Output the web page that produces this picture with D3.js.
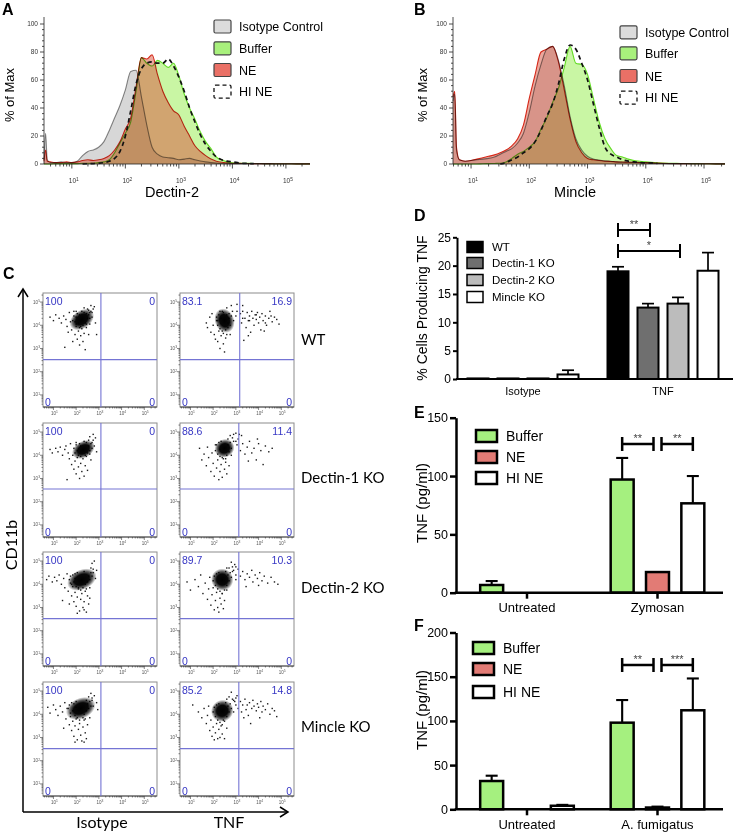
<!DOCTYPE html>
<html><head><meta charset="utf-8">
<script src="https://cdn.jsdelivr.net/npm/d3@7"></script>
<style>body{margin:0;background:#fff}svg{display:block}</style>
</head><body><svg id="c" width="736" height="833"></svg>
<script>
// ================= DATA =================
const histLegend = ["Isotype Control","Buffer","NE","HI NE"];
const histYTicks = [0,20,40,60,80,100];
const logDecades = [1,2,3,4,5];
// Panel A (Dectin-2), x values are log10 fluorescence
const histAX = [0.48,0.51,0.54,0.6,0.7,0.8,0.9,1.0,1.1,1.2,1.3,1.4,1.5,1.6,1.7,1.8,1.9,2.0,2.1,2.2,2.3,2.4,2.5,2.6,2.7,2.8,2.9,3.0,3.1,3.2,3.3,3.4,3.5,3.6,3.7,3.8,3.9,4.0,4.2,4.4,4.6,4.8,5.0,5.2,5.45];
const histAIsotype = [3,22,3,1,1,1.5,1,1,2,6,9,10,12,16,24,33,42,53,66,67,48,28,12,7,5,4.5,4,3,3.5,4,3,2.2,1.5,1,0.6,0.4,0.3,0.3,0.2,0.2,0.1,0.1,0.1,0.1,0.1];
const histABuffer = [0,0,0,0,0.3,0.3,0.3,0.3,0.3,0.5,0.5,0.5,1,1.5,3,8,15,22,30,52,76,72,70,74,72,69,72,63,50,40,32,23,16,11,5,3,1.5,0.8,0.5,0.4,0.3,0.2,0.2,0.1,0.1];
const histANE = [2,10,2,1.5,1,1,1.5,1,1.5,2.5,3,2.5,3,4,6,10,16,25,33,55,76,75,78,64,52,44,38,35,27,20,13,9,6,3.5,2,1.2,0.8,0.5,0.4,0.3,0.3,0.2,0.2,0.1,0.1];
const histAHINE = [null,null,null,null,null,null,null,null,null,0,0.2,0.3,0.5,1,2,4,9,20,38,57,68,72,73,72,72,75,70,62,52,40,30,21,14,9,5,3,2,1.5,0.5,0.3,null,null,null,null,null];
// Panel B (Mincle)
const histBX = [0.69,0.72,0.75,0.8,0.9,1.0,1.1,1.2,1.3,1.4,1.5,1.6,1.7,1.8,1.9,2.0,2.1,2.2,2.3,2.4,2.5,2.6,2.7,2.8,2.9,3.0,3.1,3.2,3.3,3.4,3.5,3.6,3.7,3.8,3.9,4.0,4.2,4.4,4.6,4.8,5.0,5.2,5.36];
const histBIsotype = [45,50,10,3,2,2.5,3,3.5,4,5,7,9,11,15,22,37,56,71,82,84,74,56,34,18,10,5.5,3.5,2.8,2.2,2,1.5,1.3,1.2,1.1,1,0.8,0.4,0.3,0.2,0.2,0.2,0.1,0.1];
const histBBuffer = [0,0,0,0,0,0,0,0.2,0.3,0.4,0.5,1.5,4,7,9,12,16,25,33,44,54,69,84,72,71,64,47,30,18,11,6,5,3.5,2.5,2,1.5,0.8,0.5,0.4,0.3,0.2,0.1,0.1];
const histBNE = [48,52,12,3,2,2.5,3.5,4.5,5.5,6.5,8,10,13,18,28,47,64,80,82,84,73,53,32,16,8,4,3,2.5,2,1.8,1.5,1.4,1.3,1.2,1.1,1,0.6,0.4,0.3,0.2,0.2,0.1,0.1];
const histBHINE = [null,null,null,null,null,null,null,null,null,null,0,1,3,5,8,11,16,24,34,43,57,75,85,82,72,60,43,26,12,7,5,3,2,1.5,1,0.8,0.4,null,null,null,null,null,null];

// Panel C (flow dot plots): rows x columns, values in log10 units
const flowRows = ["WT","Dectin-1 KO","Dectin-2 KO","Mincle KO"];
const flowCols = ["Isotype","TNF"];
const flowQuadrants = [["100","0","0","0"],["83.1","16.9","0","0"],["100","0","0","0"],["88.6","11.4","0","0"],
                       ["100","0","0","0"],["89.7","10.3","0","0"],["100","0","0","0"],["85.2","14.8","0","0"]];
const flowGates = [[3.09,2.52],[3.17,2.52],[3.09,2.55],[3.13,2.55],[3.09,2.52],[3.13,2.52],[3.09,2.52],[3.13,2.52]];
const flowCores = [[2.25,4.25,0.33,0.22,-35],[2.5,4.2,0.24,0.3,-20],[2.32,4.25,0.3,0.2,-30],[2.5,4.3,0.25,0.22,-30],
                   [2.25,4.2,0.38,0.24,-25],[2.4,4.2,0.27,0.27,-40],[2.2,4.25,0.38,0.25,-25],[2.4,4.15,0.28,0.26,-35]];
const flowDots1 = [[0.85,4.35],[1.0,4.2],[1.1,4.45],[1.25,4.3],[1.35,4.1],[1.45,4.4],[1.55,4.25],[1.6,3.95],[1.7,4.55],[1.75,4.15],[1.8,3.8],[1.9,4.6],[1.95,3.6],[2.0,3.95],[2.05,3.4],[2.1,3.75],[2.15,3.15],[2.2,3.55],[2.25,3.85],[2.3,3.3],[2.35,3.65],[2.4,2.95],[2.45,3.9],[2.5,4.7],[2.55,3.6],[2.6,4.55],[2.65,4.85],[2.7,4.35],[2.75,4.7],[2.8,4.8],[2.85,4.1],[2.9,3.6],[1.5,3.05],[2.0,4.6],[1.85,3.3],[2.6,4.05],[2.35,4.75],[1.65,3.7],
  [1.85,4.2],[1.9,4.4],[1.95,4.15],[2.0,4.35],[2.05,4.5],[2.1,4.1],[2.15,4.45],[2.2,3.95],[2.3,4.0],[2.35,4.55],[2.4,4.1],[2.45,4.5],[2.5,4.3],[2.55,4.45],[2.6,4.3],[2.65,4.6],[2.0,4.05],[2.25,4.6],[2.45,4.05],[2.15,3.9],[2.55,4.65],[2.7,4.55]];
const flowDots2 = [[1.7,4.1],[1.75,3.9],[1.85,4.35],[1.9,3.7],[1.95,4.5],[2.0,4.0],[2.05,3.6],[2.1,3.4],[2.15,4.2],[2.2,3.3],[2.25,3.75],[2.3,3.0],[2.35,3.55],[2.4,4.6],[2.45,3.2],[2.5,2.85],[2.55,3.45],[2.6,4.75],[2.65,3.9],[2.7,4.5],[2.75,3.6],[2.8,4.85],[2.9,4.2],[3.0,4.4],[3.05,4.9],[3.2,4.5],[3.25,4.1],[3.3,4.6],[3.4,4.3],[3.45,3.9],[3.5,4.55],[3.55,4.2],[3.6,4.4],[3.65,3.7],[3.7,4.6],[3.75,4.3],[3.8,4.0],[3.85,4.45],[3.9,4.25],[3.95,4.55],[4.0,4.1],[4.05,4.35],[4.1,3.8],[4.15,4.5],[4.2,4.2],[4.3,4.4],[4.35,4.0],[4.45,4.3],[4.5,4.6],[4.6,4.15],[4.7,4.35],[4.8,4.25],[4.9,4.05],[3.35,3.35],[3.55,3.55],[4.25,3.75],[3.3,4.85],
  [2.15,4.35],[2.2,4.0],[2.25,4.45],[2.3,3.85],[2.35,4.3],[2.4,3.75],[2.45,4.55],[2.55,3.8],[2.6,4.45],[2.65,4.1],[2.7,4.3],[2.75,4.0],[2.8,4.4],[2.3,4.6],[2.45,3.65],[2.6,3.6],[2.2,4.2],[2.85,4.6],[3.05,4.6],[3.3,4.3],[3.6,4.2],[3.9,4.45],[4.3,4.1],[4.55,4.4]];
const flowDots3 = [[0.85,4.25],[0.95,4.1],[1.1,4.3],[1.2,4.15],[1.3,4.35],[1.4,4.0],[1.5,4.25],[1.55,4.4],[1.65,4.1],[1.7,3.85],[1.75,4.5],[1.8,3.6],[1.85,4.0],[1.9,3.4],[1.95,3.75],[2.0,3.2],[2.05,3.9],[2.1,3.5],[2.15,3.0],[2.2,3.65],[2.25,3.3],[2.3,3.85],[2.35,3.1],[2.4,3.55],[2.45,3.95],[2.5,3.35],[2.55,4.65],[2.6,4.8],[2.65,3.8],[2.7,4.55],[2.75,4.9],[2.8,4.4],[2.85,4.75],[2.9,4.15],[1.6,2.95],[2.0,4.55],
  [1.9,4.3],[1.95,4.1],[2.0,4.45],[2.05,4.2],[2.1,4.0],[2.15,4.5],[2.2,3.95],[2.4,4.0],[2.45,4.55],[2.5,4.1],[2.55,4.4],[2.6,4.2],[2.65,4.5],[2.7,4.3],[2.35,4.6],[2.2,4.4],[2.6,4.05],[2.75,4.65]];
const flowDots4 = [[1.4,4.3],[1.5,3.8],[1.6,4.05],[1.7,3.55],[1.75,4.35],[1.8,3.9],[1.9,3.3],[1.95,4.1],[2.0,3.65],[2.05,3.1],[2.1,4.45],[2.15,3.45],[2.2,3.8],[2.25,2.95],[2.3,3.3],[2.35,3.6],[2.4,3.05],[2.45,3.85],[2.5,3.4],[2.55,3.7],[2.6,3.2],[2.65,4.7],[2.7,3.55],[2.75,4.85],[2.8,4.0],[2.9,4.6],[3.0,4.95],[3.05,4.45],[3.1,4.7],[3.2,4.2],[3.3,4.5],[3.4,4.05],[3.5,4.35],[3.6,4.6],[3.7,4.1],[3.8,4.3],[3.9,3.8],[4.0,4.5],[4.1,4.2],[4.2,3.6],[4.3,4.4],[4.45,4.15],[4.6,4.3],[3.55,3.75],[3.25,4.85],[3.95,4.7],
  [2.1,4.2],[2.15,4.45],[2.2,4.05],[2.25,4.55],[2.3,3.95],[2.35,4.6],[2.4,3.9],[2.6,4.0],[2.65,4.45],[2.7,4.15],[2.75,4.55],[2.8,4.3],[2.85,4.75],[2.3,4.25],[2.55,3.85],[2.9,4.9],[3.15,4.9],[3.0,4.6]];
const flowDots5 = [[0.7,4.2],[0.8,4.35],[0.95,4.1],[1.05,4.3],[1.15,4.15],[1.25,4.4],[1.35,4.0],[1.45,4.25],[1.5,3.85],[1.6,4.45],[1.65,3.7],[1.75,4.05],[1.8,3.5],[1.85,3.9],[1.9,3.25],[1.95,3.65],[2.0,3.05],[2.05,3.45],[2.1,3.8],[2.15,2.85],[2.2,3.35],[2.25,3.6],[2.3,3.0],[2.35,3.25],[2.4,3.7],[2.45,2.8],[2.5,3.5],[2.55,3.15],[2.6,3.85],[2.65,4.7],[2.7,4.9],[2.75,4.5],[2.8,5.0],[2.85,4.25],[2.9,4.6],[1.4,3.3],[1.7,3.15],[2.05,2.75],[2.35,2.9],[2.6,3.4],
  [1.7,4.2],[1.75,4.35],[1.8,4.0],[1.85,4.4],[1.9,4.1],[1.95,4.45],[2.0,3.9],[2.05,4.5],[2.1,3.85],[2.3,3.85],[2.4,4.0],[2.5,4.1],[2.55,4.35],[2.6,4.2],[2.65,4.5],[2.7,4.35],[2.75,4.65],[2.2,3.75],[2.45,3.8],[1.95,4.25],[2.35,4.55]];
const flowDots6 = [[0.85,4.1],[1.0,3.75],[1.2,4.2],[1.35,3.9],[1.45,4.4],[1.55,3.6],[1.65,4.05],[1.75,3.35],[1.8,3.8],[1.85,4.3],[1.9,3.1],[1.95,3.55],[2.0,3.85],[2.05,2.9],[2.1,3.3],[2.15,3.65],[2.2,3.0],[2.25,2.8],[2.3,3.4],[2.35,3.15],[2.4,3.6],[2.45,2.95],[2.5,3.3],[2.6,3.75],[2.7,4.7],[2.8,4.95],[2.85,4.55],[2.95,4.85],[3.0,4.4],[3.1,4.65],[3.2,4.35],[3.3,4.55],[3.4,4.2],[3.5,4.45],[3.6,4.3],[3.7,4.6],[3.75,4.1],[3.85,4.4],[3.95,4.25],[4.05,4.5],[4.15,4.15],[4.25,4.35],[4.4,4.05],[4.55,4.3],[4.7,4.1],[4.85,4.0],[3.45,3.9],[4.0,3.95],
  [2.0,4.15],[2.05,4.35],[2.1,3.95],[2.15,4.45],[2.2,3.8],[2.25,4.5],[2.3,3.7],[2.5,3.75],[2.55,4.55],[2.6,3.95],[2.65,4.4],[2.7,4.15],[2.75,4.5],[2.8,4.3],[2.85,4.75],[2.4,3.6],[2.6,4.7],[2.9,4.6],[3.0,4.75],[3.0,4.2]];
const flowDots7 = [[0.75,4.3],[0.85,4.05],[1.0,4.4],[1.1,4.2],[1.2,3.95],[1.3,4.35],[1.4,4.1],[1.5,4.5],[1.55,3.8],[1.6,4.25],[1.7,3.55],[1.75,3.9],[1.8,3.3],[1.85,3.7],[1.9,3.05],[1.95,3.5],[2.0,3.8],[2.05,2.9],[2.1,3.35],[2.15,3.6],[2.2,3.1],[2.25,2.85],[2.3,3.45],[2.35,3.75],[2.4,3.2],[2.45,2.95],[2.5,3.55],[2.55,4.75],[2.6,3.85],[2.65,4.9],[2.7,4.6],[2.75,4.35],[2.8,4.8],[2.9,4.5],[2.95,4.2],[1.45,3.4],[1.95,2.8],[2.35,2.8],
  [1.65,4.25],[1.7,4.4],[1.75,4.05],[1.8,4.5],[1.85,4.15],[1.9,4.45],[1.95,3.95],[2.0,4.55],[2.05,3.85],[2.3,3.85],[2.35,4.0],[2.45,4.15],[2.5,4.45],[2.55,4.25],[2.6,4.55],[2.65,4.35],[2.7,4.7],[2.15,3.75],[2.4,3.8],[2.0,4.3],[2.45,4.6]];
const flowDots8 = [[1.1,4.4],[1.35,4.1],[1.5,3.85],[1.6,4.25],[1.7,3.6],[1.75,3.95],[1.8,4.35],[1.85,3.3],[1.9,3.75],[1.95,3.05],[2.0,3.45],[2.05,2.9],[2.1,3.2],[2.15,3.6],[2.2,2.95],[2.25,3.35],[2.3,3.0],[2.35,3.5],[2.4,3.15],[2.45,3.75],[2.5,2.95],[2.6,3.4],[2.7,4.75],[2.8,4.95],[2.9,4.6],[3.0,4.4],[3.05,4.8],[3.1,4.25],[3.2,4.55],[3.25,4.1],[3.3,4.4],[3.4,4.65],[3.45,4.2],[3.5,4.4],[3.55,3.95],[3.6,4.5],[3.7,4.25],[3.75,4.6],[3.8,4.35],[3.9,4.15],[3.95,4.45],[4.0,4.3],[4.1,4.55],[4.15,4.1],[4.2,4.35],[4.3,4.2],[4.4,4.45],[4.5,4.0],[4.6,4.25],[4.7,4.15],[4.8,3.9],[3.35,3.85],[3.65,3.6],[4.05,3.85],
  [2.0,4.1],[2.05,4.3],[2.1,3.9],[2.15,4.4],[2.2,3.75],[2.25,4.45],[2.3,3.65],[2.5,3.7],[2.55,4.5],[2.6,3.9],[2.65,4.35],[2.7,4.1],[2.75,4.45],[2.8,4.25],[2.85,4.65],[2.4,3.55],[2.6,4.65],[2.95,4.55],[3.0,4.7],[2.9,4.1]];
const flowDots = [flowDots1,flowDots2,flowDots3,flowDots4,flowDots5,flowDots6,flowDots7,flowDots8];

// Panel D
const dGroups = ["Isotype","TNF"];
const dSeries = ["WT","Dectin-1 KO","Dectin-2 KO","Mincle KO"];
const dMeans  = [[0.1,0.1,0.1,0.8],[19.0,12.6,13.3,19.1]];
const dErrors = [[0,0,0,0.75],[0.8,0.7,1.1,3.2]];
const dTicks  = [0,5,10,15,20,25];
const dSig    = [[1,0,1,"**"],[1,0,2,"*"]];
// Panels E, F
const tnfSeries = ["Buffer","NE","HI NE"];
const eGroups = ["Untreated","Zymosan"];
const eMeans  = [[6.6,0,0],[97,17.7,76.6]];
const eErrors = [[3.4,0,0],[18.5,0,23.4]];
const eTicks  = [0,50,100,150];
const eSig    = [[1,0,1,"**"],[1,1,2,"**"]];
const fGroups = ["Untreated","A. fumigatus"];
const fMeans  = [[32,0,4],[98,2,112]];
const fErrors = [[6,0,1],[25.6,1,36]];
const fTicks  = [0,50,100,150,200];
const fSig    = [[1,0,1,"**"],[1,1,2,"***"]];

// ================= DRAWING =================
const FONT = '"Liberation Sans", Arial, Helvetica, sans-serif';
const CAL = 'Lato, "Open Sans", sans-serif';
const svg = d3.select("#c").attr("font-family", FONT);
const defs = svg.append("defs");
const rg = defs.append("radialGradient").attr("id","coreGrad");
[[0,1],[0.5,0.97],[0.75,0.6],[1,0]].forEach(s=>rg.append("stop").attr("offset",s[0]).attr("stop-color","#000").attr("stop-opacity",s[1]));

function letter(t,x,y){ svg.append("text").attr("x",x).attr("y",y).attr("font-size",16).attr("font-weight","bold").text(t); }
function logLabel(sel,d){ sel.append("tspan").text("10"); sel.append("tspan").attr("dy","-0.45em").attr("font-size","0.75em").text(d); }

// ---------- histograms ----------
const histFill = ["#d7d7d7","#c9f6a4","#d9523c"];
const histStroke = ["#8a8a8a","#6ee02c","#de2f1e"];
const legendSw = ["#dcdcdc","#a8f07c","#ea7066"];

function histPanel(o){
  const xs=o.xs;
  const x=d3.scaleLinear().domain([xs[0],xs[xs.length-1]]).range([o.left,o.right]);
  const y=d3.scaleLinear().domain([0,100]).range([164,24]);
  const g=svg.append("g");
  const pts=a=>xs.map((v,i)=>[v,a[i]]);
  const area=d3.area().defined(d=>d[1]!=null).x(d=>x(d[0])).y0(y(0)).y1(d=>y(d[1])).curve(d3.curveMonotoneX);
  const line=d3.line().defined(d=>d[1]!=null).x(d=>x(d[0])).y(d=>y(d[1])).curve(d3.curveMonotoneX);
  const series=[o.iso,o.buf,o.ne];
  series.forEach((a,i)=>{
    const p=g.append("path").datum(pts(a)).attr("d",area).attr("fill",histFill[i]);
    if(i<2) p.style("mix-blend-mode","multiply"); else p.attr("fill-opacity",0.5);
  });
  series.forEach((a,i)=>g.append("path").datum(pts(a)).attr("d",line).attr("fill","none").attr("stroke",histStroke[i]).attr("stroke-width",1.1).style("mix-blend-mode","multiply"));
  g.append("path").datum(pts(o.hi)).attr("d",line).attr("fill","none").attr("stroke","#111").attr("stroke-width",1.7).attr("stroke-dasharray","4.5,3.5");
  // y axis
  const ax=svg.append("g").attr("stroke","#222").attr("stroke-width",0.8);
  ax.append("line").attr("x1",o.left).attr("x2",o.left).attr("y1",17).attr("y2",y(0));
  d3.range(0,101,4).forEach(v=>{ if(v%20) ax.append("line").attr("x1",o.left-2).attr("x2",o.left).attr("y1",y(v)).attr("y2",y(v)); });
  histYTicks.forEach(v=>{
    ax.append("line").attr("x1",o.left-4).attr("x2",o.left).attr("y1",y(v)).attr("y2",y(v));
    svg.append("text").attr("x",o.left-6).attr("y",y(v)+2.3).attr("text-anchor","end").attr("font-size",6.5).attr("fill","#333").text(v);
  });
  // x axis
  ax.append("line").attr("x1",o.left).attr("x2",o.right).attr("y1",y(0)).attr("y2",y(0));
  for(let d=0; d<=5; d++){ for(let k=2;k<=9;k++){ const lv=d+Math.log10(k); if(lv>xs[0]&&lv<xs[xs.length-1]) ax.append("line").attr("x1",x(lv)).attr("x2",x(lv)).attr("y1",y(0)).attr("y2",y(0)+2.5);} }
  logDecades.forEach(d=>{
    ax.append("line").attr("x1",x(d)).attr("x2",x(d)).attr("y1",y(0)).attr("y2",y(0)+4.5);
    const t=svg.append("text").attr("x",x(d)+2).attr("y",183).attr("text-anchor","middle").attr("font-size",6.5).attr("fill","#333");
    logLabel(t,d);
  });
  svg.append("text").attr("transform",`translate(${o.ytx},95) rotate(-90)`).attr("text-anchor","middle").attr("font-size",13).text("% of Max");
  svg.append("text").attr("x",o.xtx).attr("y",197).attr("text-anchor","middle").attr("font-size",14.5).text(o.title);
  // legend
  histLegend.forEach((name,i)=>{
    const cy=o.legY[i];
    const r=svg.append("rect").attr("x",o.legX).attr("y",cy-6.5).attr("width",17).attr("height",13).attr("rx",1.5);
    if(i<3) r.attr("fill",legendSw[i]).attr("stroke","#444").attr("stroke-width",1.2);
    else r.attr("fill","#fff").attr("stroke","#111").attr("stroke-width",1.3).attr("stroke-dasharray","4,3");
    svg.append("text").attr("x",o.legX+25).attr("y",cy+4.5).attr("font-size",12.5).text(name);
  });
}
letter("A",2,15);
histPanel({xs:histAX,iso:histAIsotype,buf:histABuffer,ne:histANE,hi:histAHINE,left:44,right:310,ytx:14,xtx:172,title:"Dectin-2",legX:214,legY:[26.5,48.3,70,91.7]});
letter("B",414,15);
histPanel({xs:histBX,iso:histBIsotype,buf:histBBuffer,ne:histBNE,hi:histBHINE,left:453,right:725,ytx:427,xtx:575,title:"Mincle",legX:620,legY:[32.3,53.3,76,97.7]});

// ---------- flow plots ----------
letter("C",3,279);
const colX=[43,180], rowY=[293,423,552,682], S=114;
const fc=svg.append("g");
fc.append("line").attr("x1",23).attr("x2",23).attr("y1",812).attr("y2",290).attr("stroke","#000").attr("stroke-width",1.5);
fc.append("polyline").attr("points","18,297 23,289 28,297").attr("fill","none").attr("stroke","#000").attr("stroke-width",1.5);
fc.append("line").attr("x1",23).attr("x2",287).attr("y1",812).attr("y2",812).attr("stroke","#000").attr("stroke-width",1.5);
fc.append("polyline").attr("points","280,807 288,812 280,817").attr("fill","none").attr("stroke","#000").attr("stroke-width",1.5);
svg.append("text").attr("transform","translate(17,545) rotate(-90)").attr("text-anchor","middle").attr("font-family",CAL).attr("font-size",16).text("CD11b");
flowCols.forEach((c,i)=>svg.append("text").attr("x",[102,229][i]).attr("y",828).attr("text-anchor","middle").attr("font-family",CAL).attr("font-size",16).text(c));
const rowLabY=[340,478,588,727];
flowRows.forEach((r,i)=>svg.append("text").attr("x",301).attr("y",rowLabY[i]+5).attr("font-family",CAL).attr("font-size",15).text(r));

flowRows.forEach((r,ri)=>flowCols.forEach((c,ci)=>{
  const k=ri*2+ci, x0=colX[ci], y0=rowY[ri];
  const sx=d3.scaleLinear().domain([0.54,5.56]).range([x0,x0+S]);
  const sy=d3.scaleLinear().domain([0.48,5.39]).range([y0+S,y0]);
  const g=svg.append("g");
  g.append("rect").attr("x",x0).attr("y",y0).attr("width",S).attr("height",S).attr("fill","#fff").attr("stroke","#8c8c8c").attr("stroke-width",1);
  // ticks
  for(let d=0; d<=5; d++){ for(let m=1;m<=9;m++){ const lv=d+Math.log10(m); const big=(m===1);
    if(lv>0.54&&lv<5.56) g.append("line").attr("x1",sx(lv)).attr("x2",sx(lv)).attr("y1",y0+S).attr("y2",y0+S+(big?3:1.5)).attr("stroke","#333").attr("stroke-width",0.6);
    if(lv>0.48&&lv<5.39) g.append("line").attr("y1",sy(lv)).attr("y2",sy(lv)).attr("x1",x0).attr("x2",x0-(big?3:1.5)).attr("stroke","#333").attr("stroke-width",0.6);
  }}
  g.append("line").attr("x1",x0).attr("x2",x0+S).attr("y1",y0+S).attr("y2",y0+S).attr("stroke","#333").attr("stroke-width",0.8);
  logDecades.forEach(d=>{
    const t=g.append("text").attr("x",sx(d)+1).attr("y",y0+S+8).attr("text-anchor","middle").attr("font-size",4.5).attr("fill","#555"); logLabel(t,d);
    const t2=g.append("text").attr("x",x0-3).attr("y",sy(d)+1.5).attr("text-anchor","end").attr("font-size",4.5).attr("fill","#555"); logLabel(t2,d);
  });
  // dots
  flowDots[k].forEach(p=>g.append("rect").attr("x",sx(p[0])-0.7).attr("y",sy(p[1])-0.7).attr("width",1.4).attr("height",1.4).attr("fill","#1a1a1a"));
  const core=flowCores[k];
  const ex=sx(core[0]+core[2])-sx(core[0]), ey=sy(core[1])-sy(core[1]+core[3]);
  g.append("ellipse").attr("transform",`translate(${sx(core[0])},${sy(core[1])}) rotate(${core[4]})`).attr("rx",ex*1.8).attr("ry",ey*1.8).attr("fill","url(#coreGrad)");
  // gates
  const gt=flowGates[k];
  g.append("line").attr("x1",sx(gt[0])).attr("x2",sx(gt[0])).attr("y1",y0).attr("y2",y0+S).attr("stroke","#7474d4").attr("stroke-width",1.1);
  g.append("line").attr("x1",x0).attr("x2",x0+S).attr("y1",sy(gt[1])).attr("y2",sy(gt[1])).attr("stroke","#7474d4").attr("stroke-width",1.1);
  const q=flowQuadrants[k], qc="#3636c4";
  [[x0+2,y0+12,"start",0],[x0+S-2,y0+12,"end",1],[x0+2,y0+S-1.5,"start",2],[x0+S-2,y0+S-1.5,"end",3]].forEach(a=>
    g.append("text").attr("x",a[0]).attr("y",a[1]).attr("text-anchor",a[2]).attr("font-size",10.5).attr("fill",qc).text(q[a[3]]));
}));

// ---------- bar charts ----------
function barChart(o){
  const g=svg.append("g");
  const y=d3.scaleLinear().domain([0,o.yMax]).range([o.yBottom,o.yTop]);
  const gx=d3.scalePoint().domain(o.groups).range(o.centers);
  const ix=d3.scaleBand().domain(o.series).range([-o.half,o.half]).paddingInner(o.pi).paddingOuter(o.pi/2);
  const bw=ix.bandwidth();
  const cx=(gi,si)=>gx(o.groups[gi])+ix(o.series[si])+bw/2;
  o.groups.forEach((grp,gi)=>o.series.forEach((s,si)=>{
    const v=o.means[gi][si], e=o.errors[gi][si], c=cx(gi,si);
    if(e>0){
      g.append("line").attr("x1",c).attr("x2",c).attr("y1",y(v)).attr("y2",y(v+e)).attr("stroke","#000").attr("stroke-width",o.sw*0.85);
      g.append("line").attr("x1",c-6).attr("x2",c+6).attr("y1",y(v+e)).attr("y2",y(v+e)).attr("stroke","#000").attr("stroke-width",o.sw*0.85);
    }
    if(v>0) g.append("rect").attr("x",c-bw/2).attr("y",y(v)).attr("width",bw).attr("height",y(0)-y(v)).attr("fill",o.colors[si]).attr("stroke","#000").attr("stroke-width",o.sw);
  }));
  // axes
  const ya=g.append("g").attr("transform",`translate(${o.x0},0)`).call(d3.axisLeft(y).tickValues(o.ticks).tickSize(o.tickLen).tickSizeOuter(0).tickPadding(2));
  ya.attr("font-family",FONT).attr("font-size",o.tickFont);
  ya.selectAll("path").attr("stroke","#000").attr("stroke-width",o.asw);
  ya.selectAll(".tick line").attr("stroke","#000").attr("stroke-width",o.asw);
  ya.selectAll(".tick text").attr("fill","#000");
  g.append("line").attr("x1",o.x0-o.asw/2).attr("x2",o.x1).attr("y1",y(0)).attr("y2",y(0)).attr("stroke","#000").attr("stroke-width",o.asw);
  o.groups.forEach((grp,gi)=>{
    if(o.gTick) g.append("line").attr("x1",gx(grp)).attr("x2",gx(grp)).attr("y1",y(0)).attr("y2",y(0)+6).attr("stroke","#000").attr("stroke-width",o.asw);
    g.append("text").attr("x",gx(grp)+(o.labDx||0)).attr("y",o.labY).attr("text-anchor","middle").attr("font-size",o.labFont).text(grp);
  });
  g.append("text").attr("transform",`translate(${o.titleX},${o.titleY}) rotate(-90)`).attr("text-anchor","middle").attr("font-size",o.titleFont).text(o.title);
  // significance
  o.sig.forEach((s,i)=>{
    let xa=cx(s[0],s[1]), xb=cx(s[0],s[2]);
    if(o.split){ if(i===0) xb-=4; else xa+=4; } else xb+=2;
    const yy=o.sigY[i];
    g.append("path").attr("d",`M${xa},${yy-7}V${yy+7}M${xa},${yy}H${xb}M${xb},${yy-7}V${yy+7}`).attr("fill","none").attr("stroke","#000").attr("stroke-width",o.sw);
    g.append("text").attr("x",(xa+xb)/2).attr("y",yy-2).attr("text-anchor","middle").attr("font-size",11).attr("fill","#444").text(s[3]);
  });
  // legend
  o.series.forEach((s,i)=>{
    const cy=o.legY[i];
    g.append("rect").attr("x",o.legX).attr("y",cy-o.legH/2).attr("width",o.legW).attr("height",o.legH).attr("fill",o.colors[i]).attr("stroke","#000").attr("stroke-width",o.legSw);
    g.append("text").attr("x",o.legTX).attr("y",cy+o.legFont*0.36).attr("font-size",o.legFont).text(s);
  });
}
letter("D",414,221);
barChart({groups:dGroups,series:dSeries,means:dMeans,errors:dErrors,ticks:dTicks,yMax:25,yBottom:379,yTop:237.3,x0:457,x1:733,
  centers:[523,663],half:60,pi:0.3,colors:["#000","#6f6f6f","#bcbcbc","#fff"],sw:2,asw:2,tickLen:4,tickFont:12,gTick:false,
  labY:395,labFont:11,title:"% Cells Producing TNF",titleX:427,titleY:308,titleFont:14,sig:dSig,sigY:[230,251],split:false,
  legX:467,legY:[247,263,280,297],legW:16,legH:11,legSw:1.5,legTX:492,legFont:11.5});
letter("E",414,418);
barChart({groups:eGroups,series:tnfSeries,means:eMeans,errors:eErrors,ticks:eTicks,yMax:150,yBottom:592.7,yTop:417.7,x0:456,x1:723,
  centers:[527,657.5],half:53,pi:0.35,colors:["#a5f07f","#e27b75","#fff"],sw:2.5,asw:2.5,tickLen:6,tickFont:12.5,gTick:true,
  labY:612,labFont:13,title:"TNF (pg/ml)",titleX:427,titleY:503,titleFont:15,sig:eSig,sigY:[444,444],split:true,
  legX:476,legY:[436,457,478],legW:21,legH:12,legSw:2.5,legTX:506,legFont:14});
letter("F",414,631);
barChart({groups:fGroups,series:tnfSeries,means:fMeans,errors:fErrors,ticks:fTicks,yMax:200,yBottom:809.3,yTop:632.5,x0:456,x1:723,
  centers:[527,657.5],half:53,pi:0.35,colors:["#a5f07f","#e27b75","#fff"],sw:2.5,asw:2.5,tickLen:6,tickFont:12.5,gTick:true,
  labY:829,labFont:13,title:"TNF (pg/ml)",titleX:427,titleY:710,titleFont:15,sig:fSig,sigY:[665,665],split:true,
  legX:473,legY:[648,669,692],legW:21,legH:12,legSw:2.5,legTX:503,legFont:14});
</script></body></html>
